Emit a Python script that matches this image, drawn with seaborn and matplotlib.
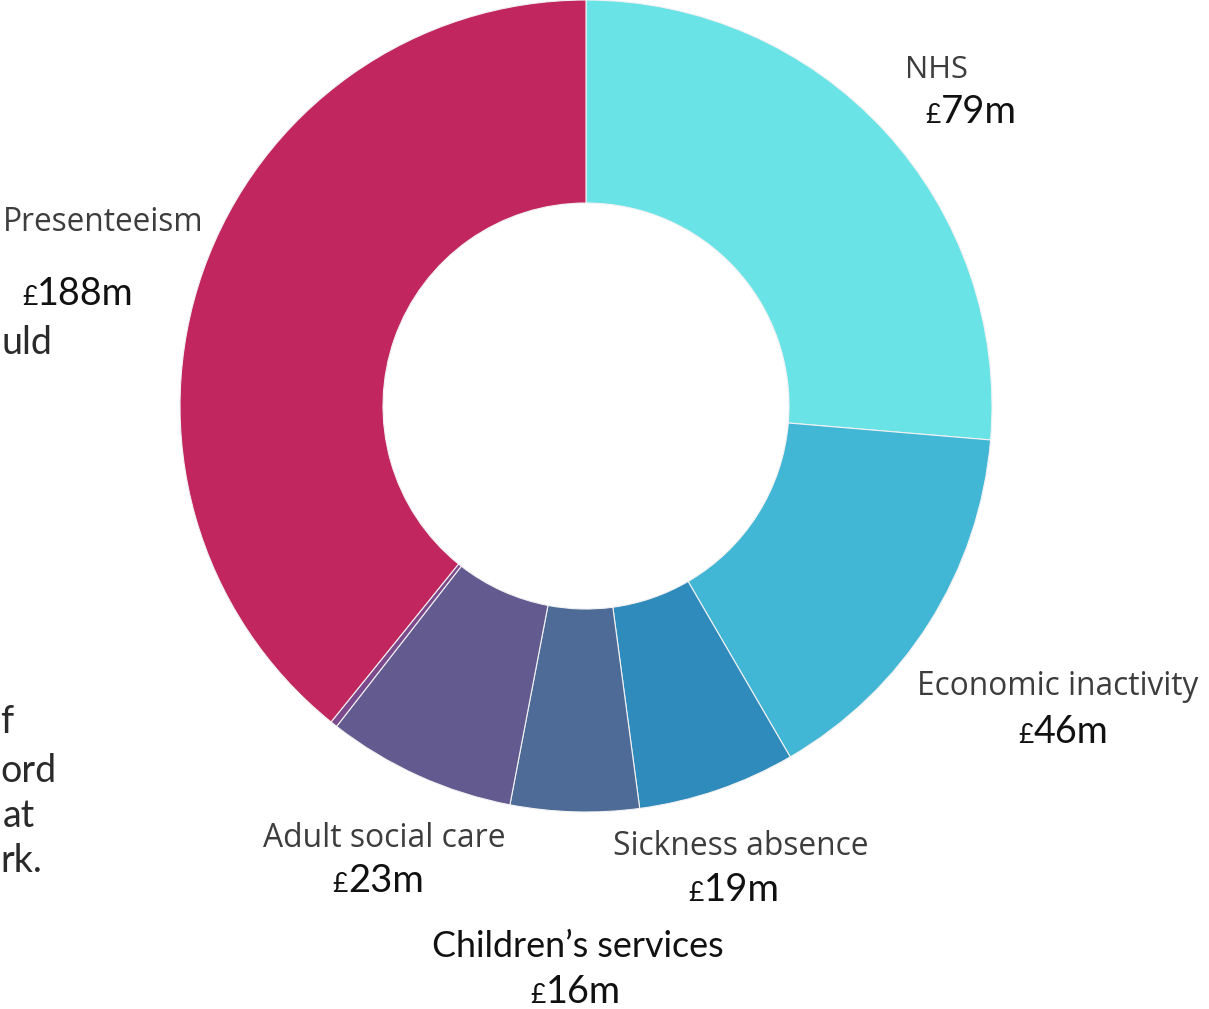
import matplotlib
matplotlib.use("Agg")
import matplotlib.pyplot as plt
import seaborn as sns

# ---------------- data ----------------
categories = ["NHS", "Economic inactivity", "Sickness absence", "Children’s services",
              "Adult social care", "Other", "Presenteeism"]
slice_sizes = [94.8, 55.0, 22.6, 18.4, 27.1, 1.0, 141.1]   # arc size as drawn
cost_values = ["79m", "46m", "19m", "16m", "23m", None, "188m"]
slice_colors = ["#6AE3E6", "#42B6D5", "#2E8BBB", "#4E6B98", "#635A90", "#7B4A8C", "#C1275E"]
side_text = ["uld", "f", "ord", "at", "rk."]

# ---------------- figure ----------------
sns.set_theme(style="white")
plt.rcParams["font.family"] = ["Open Sans", "DejaVu Sans"]

W, H = 1209, 1009
fig = plt.figure(figsize=(W / 100, H / 100), dpi=100)
ax = fig.add_axes([0, 0, 1, 1])
palette = sns.color_palette(slice_colors)

ax.pie(slice_sizes, colors=palette, startangle=90, counterclock=False,
       radius=406, center=(586, H - 406), frame=False,
       wedgeprops=dict(width=203, edgecolor="#f2f2f2", linewidth=0.8))
ax.set_xlim(0, W)
ax.set_ylim(0, H)
ax.set_aspect("equal")
ax.axis("off")

renderer = fig.canvas.get_renderer()


def put(x, ytop, s, size, target_w=None, **kw):
    t = ax.text(x, H - ytop, s, ha="left", va="baseline", fontsize=size, **kw)
    if target_w:
        w = t.get_window_extent(renderer).width
        t.set_fontsize(size * target_w / w)
    return t


# label layout: (x, baseline, width, family, color)
label_layout = {
    "NHS": (905, 78, 63, "Open Sans", "#3d3d3d"),
    "Economic inactivity": (917, 695, 282, "Open Sans", "#3d3d3d"),
    "Sickness absence": (613, 855, 256, "Open Sans", "#3d3d3d"),
    "Children’s services": (432, 957, 291, "Lato", "#111111"),
    "Adult social care": (263, 847, 243, "Open Sans", "#3d3d3d"),
    "Presenteeism": (3, 231, 201, "Open Sans", "#3d3d3d"),
}
# value layout: (pound x, number x, baseline, number width)
value_layout = {
    "NHS": (925, 941, 123, 76),
    "Economic inactivity": (1018, 1034, 743, 75),
    "Sickness absence": (688, 704, 901, 76),
    "Children’s services": (530, 546, 1003, 75),
    "Adult social care": (332, 348, 892, 76),
    "Presenteeism": (22, 37, 305, 97),
}

value_font = dict(family=["Lato", "DejaVu Sans"], color="#111111")
for cat, val in zip(categories, cost_values):
    if val is None:
        continue
    x, yb, tw, fam, col = label_layout[cat]
    put(x, yb, cat, 22, target_w=tw, family=[fam, "DejaVu Sans"], color=col)
    px, nx, vb, vw = value_layout[cat]
    put(px, vb, "£", 19, **value_font)
    put(nx, vb, val, 27, target_w=vw, **value_font)

# clipped neighbouring paragraph text at left edge
side_pos = [(2, 354), (0, 733), (0, 782), (3, 827), (0, 872)]
for s, (x, yb) in zip(side_text, side_pos):
    put(x, yb, s, 27, family=["Lato", "DejaVu Sans"], color="#2a2a2a")

fig.savefig("out.png", dpi=100, facecolor="white")
